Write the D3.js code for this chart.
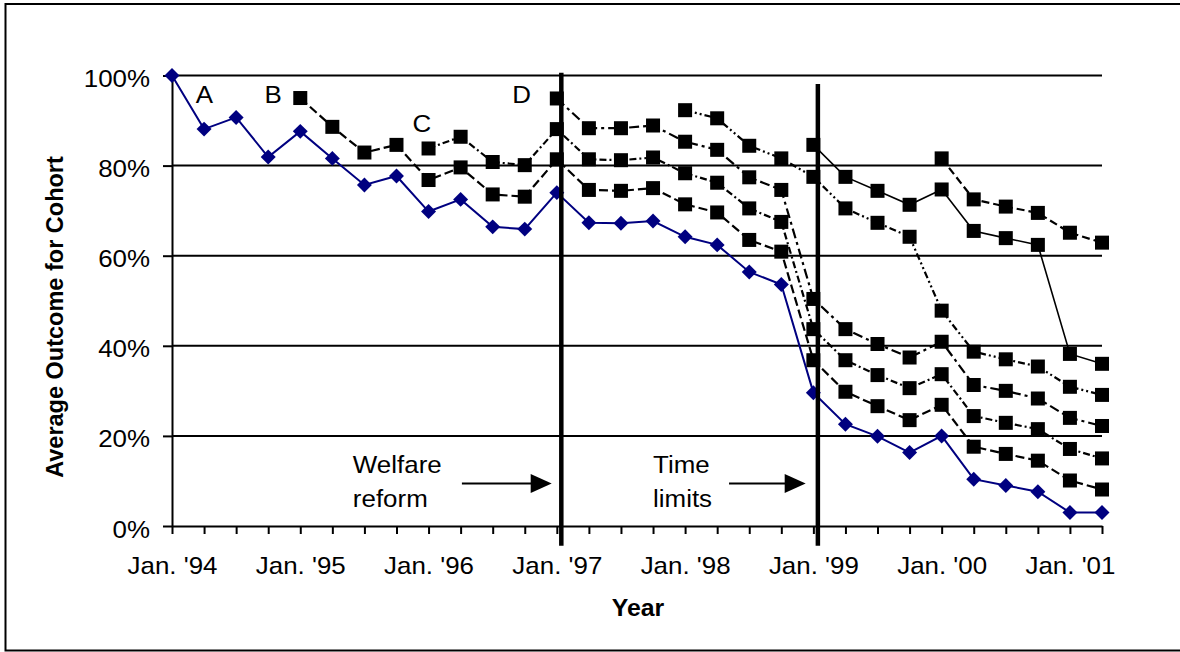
<!DOCTYPE html>
<html>
<head>
<meta charset="utf-8">
<script src="https://cdn.jsdelivr.net/npm/d3@7"></script>
<style>
body { margin: 0; background: #fff; }
svg text { font-family: Arial, "Liberation Sans", sans-serif; fill: #000; }
</style>
</head>
<body>
<div id="chart"></div>
<script>
// one category per quarter, Jan '94 .. Apr '01
var quarters = [
    "94Q1", "94Q2", "94Q3", "94Q4", "95Q1", "95Q2", "95Q3", "95Q4",
    "96Q1", "96Q2", "96Q3", "96Q4", "97Q1", "97Q2", "97Q3", "97Q4",
    "98Q1", "98Q2", "98Q3", "98Q4", "99Q1", "99Q2", "99Q3", "99Q4",
    "00Q1", "00Q2", "00Q3", "00Q4", "01Q1", "01Q2"
];
var yearLabels = ["Jan. '94", "Jan. '95", "Jan. '96", "Jan. '97", "Jan. '98", "Jan. '99", "Jan. '00", "Jan. '01"];
var yTicks = [0, 20, 40, 60, 80, 100];

// cohort A (blue) runs over every quarter
var cohortA = [100, 88.1, 90.7, 81.9, 87.6, 81.6, 75.7, 77.7, 69.8, 72.5, 66.4, 65.9, 74.0, 67.3, 67.2,
               67.7, 64.2, 62.4, 56.4, 53.6, 29.6, 22.6, 19.9, 16.3, 20.0, 10.4, 9.0, 7.6, 3.0, 3.0];
// later cohorts, each starting at the quarter given by its start index
var cohortB = [95.0, 88.6, 82.9, 84.6, 76.8, 79.6, 73.6, 73.1, 81.4, 74.6, 74.4, 75.0, 71.4, 69.6,
               63.5, 60.9, 36.8, 29.8, 26.6, 23.5, 26.9, 17.6, 16.0, 14.5, 10.1, 8.1];
var cohortC = [83.8, 86.4, 80.8, 80.1, 88.1, 81.4, 81.2, 81.8, 78.3, 76.2, 70.5, 67.5, 43.7, 36.8,
               33.5, 30.6, 33.7, 24.4, 22.9, 21.5, 17.1, 15.0];
var cohortD = [94.9, 88.3, 88.3, 88.9, 85.3, 83.5, 77.4, 74.6, 50.4, 43.7, 40.4, 37.4, 40.9, 31.3,
               30.0, 28.3, 24.0, 22.2];
var cohortE = [92.3, 90.5, 84.4, 81.6, 77.5, 70.5, 67.3, 64.2, 47.8, 38.7, 37.0, 35.4, 30.9, 29.1];
var cohortF = [84.6, 77.5, 74.4, 71.3, 74.7, 65.5, 63.9, 62.4, 38.2, 36.0];
var cohortG = [81.6, 72.5, 70.9, 69.5, 65.1, 62.9];
var cohortStarts = [0, 4, 8, 12, 16, 20, 24];

var width = 1180;
var height = 652;
var stretch = 1.08; // the original text is a bit wider than Arial

var svg = d3.select("#chart").append("svg")
    .attr("width", width)
    .attr("height", height);

// outer frame
svg.append("rect")
    .attr("x", 5.5)
    .attr("y", 4)
    .attr("width", 1190)
    .attr("height", 646.5)
    .style("fill", "none")
    .style("stroke", "#000")
    .style("stroke-width", 2);

var x = d3.scalePoint()
    .domain(quarters)
    .range([172, 1102]);
var step = x.step();
// fractional quarter position, for the annotations
function xAt(q) { return x(quarters[0]) + q * step; }

var y = d3.scaleLinear()
    .domain([0, 100])
    .range([526, 75.5]);

// horizontal gridlines
svg.selectAll(".grid")
    .data(yTicks.slice(1))
    .enter().append("line")
    .attr("class", "grid")
    .attr("x1", 172)
    .attr("x2", 1102)
    .attr("y1", d => y(d))
    .attr("y2", d => y(d))
    .style("stroke", "#000")
    .style("stroke-width", 2);

// y axis
var yAxis = svg.append("g")
    .attr("transform", "translate(172,0)")
    .call(d3.axisLeft(y).tickValues(yTicks).tickSize(9).tickSizeOuter(0).tickFormat(d => d + "%"));
yAxis.selectAll("line, path").style("stroke", "#000").style("stroke-width", 2);
yAxis.selectAll("text")
    .attr("x", 0)
    .attr("dy", null)
    .attr("transform", "translate(-22,11) scale(" + stretch + ",1)")
    .style("font-size", "24px")
    .style("fill", "#000");

// x axis, tick every quarter, label every January
var xAxis = svg.append("g")
    .attr("transform", "translate(0,526)")
    .call(d3.axisBottom(x).tickSize(8).tickSizeOuter(0)
        .tickFormat((d, i) => i % 4 === 0 ? yearLabels[i / 4] : ""));
xAxis.selectAll("line, path").style("stroke", "#000").style("stroke-width", 2);
xAxis.selectAll("text")
    .attr("y", 0)
    .attr("dy", null)
    .attr("transform", "translate(0,48) scale(" + stretch + ",1)")
    .style("font-size", "24px")
    .style("fill", "#000");

// axis titles
svg.append("text")
    .attr("transform", "translate(638,616) scale(" + stretch + ",1)")
    .attr("text-anchor", "middle")
    .style("font-size", "23px")
    .style("font-weight", "bold")
    .text("Year");

svg.append("text")
    .attr("transform", "translate(63,317) rotate(-90)")
    .attr("text-anchor", "middle")
    .style("font-size", "23.5px")
    .style("font-weight", "bold")
    .text("Average Outcome for Cohort");

// blue cohort
var line = d3.line()
    .x(d => x(quarters[d.i]))
    .y(d => y(d.v));

function points(values, start) {
    return values.map((v, k) => ({ i: start + k, v: v }));
}

var blue = points(cohortA, cohortStarts[0]);
svg.append("path")
    .datum(blue)
    .attr("d", line)
    .style("fill", "none")
    .style("stroke", "#000080")
    .style("stroke-width", 2);

svg.selectAll(".diamond")
    .data(blue)
    .enter().append("path")
    .attr("class", "diamond")
    .attr("d", d3.symbol(d3.symbolSquare, 112))
    .attr("transform", d => "translate(" + x(quarters[d.i]) + "," + y(d.v) + ") rotate(45)")
    .style("fill", "#000080");

// black square cohorts, each with its own dash pattern
var black = [
    { values: cohortB, start: cohortStarts[1], dash: "9,4", w: 2.2 },
    { values: cohortC, start: cohortStarts[2], dash: "7,3,2,3", w: 2.2 },
    { values: cohortD, start: cohortStarts[3], dash: "10,4,3,4", w: 2.2 },
    { values: cohortE, start: cohortStarts[4], dash: "7,3,2,3,2,3", w: 2.2 },
    { values: cohortF, start: cohortStarts[5], dash: null, w: 1.6 },
    { values: cohortG, start: cohortStarts[6], dash: "8,4", w: 2.2 }
];

black.forEach(function(s) {
    var pts = points(s.values, s.start);
    svg.append("path")
        .datum(pts)
        .attr("d", line)
        .style("fill", "none")
        .style("stroke", "#000")
        .style("stroke-width", s.w)
        .style("stroke-dasharray", s.dash);

    svg.selectAll(null)
        .data(pts)
        .enter().append("rect")
        .attr("x", d => x(quarters[d.i]) - 7)
        .attr("y", d => y(d.v) - 7)
        .attr("width", 14)
        .attr("height", 14)
        .style("fill", "#000");
});

// cohort letters
var letters = [
    { text: "A", q: 1.01, v: 93.8 },
    { text: "B", q: 3.15, v: 93.8 },
    { text: "C", q: 7.79, v: 87.5 },
    { text: "D", q: 10.9, v: 93.8 }
];
svg.selectAll(".letter")
    .data(letters)
    .enter().append("text")
    .attr("class", "letter")
    .attr("text-anchor", "middle")
    .attr("transform", d => "translate(" + xAt(d.q) + "," + y(d.v) + ") scale(" + stretch + ",1)")
    .style("font-size", "24px")
    .text(d => d.text);

// policy events: thick vertical line, two-line note and arrow
var events = [
    { lines: ["Welfare", "reform"], at: 12.14, top: 100.6, textAt: 5.64, arrowFrom: 9.04, arrowTo: 11.84 },
    { lines: ["Time", "limits"], at: 20.14, top: 98.1, textAt: 15.0, arrowFrom: 17.37, arrowTo: 19.76 }
];

events.forEach(function(e) {
    var t = svg.append("text")
        .attr("transform", "translate(" + xAt(e.textAt) + "," + y(11.7) + ") scale(" + stretch + ",1)")
        .style("font-size", "24px");
    t.selectAll("tspan")
        .data(e.lines)
        .enter().append("tspan")
        .attr("x", 0)
        .attr("dy", (d, i) => i === 0 ? 0 : 34)
        .text(d => d);

    var ay = y(9.44);
    svg.append("line")
        .attr("x1", xAt(e.arrowFrom))
        .attr("x2", xAt(e.arrowTo) - 18)
        .attr("y1", ay)
        .attr("y2", ay)
        .style("stroke", "#000")
        .style("stroke-width", 2);
    svg.append("path")
        .attr("d", "M" + xAt(e.arrowTo) + "," + ay +
                   "L" + (xAt(e.arrowTo) - 21) + "," + (ay - 9.5) +
                   "L" + (xAt(e.arrowTo) - 21) + "," + (ay + 9.5) + "Z")
        .style("fill", "#000");

    svg.append("line")
        .attr("x1", xAt(e.at))
        .attr("x2", xAt(e.at))
        .attr("y1", y(e.top))
        .attr("y2", y(-4.4))
        .style("stroke", "#000")
        .style("stroke-width", 4.5);
});
</script>
</body>
</html>
